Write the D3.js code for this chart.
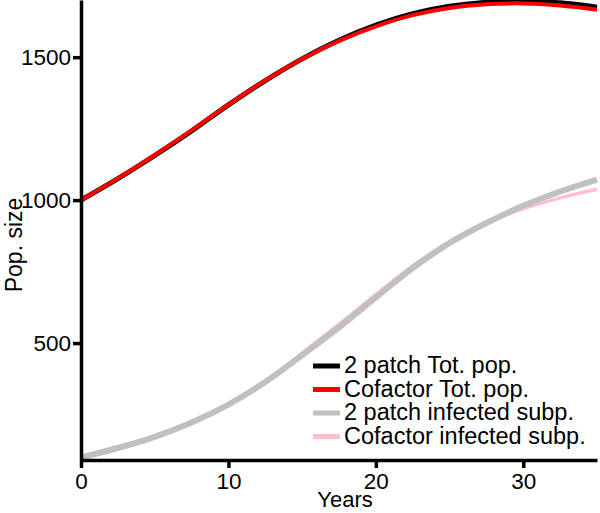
<!DOCTYPE html>
<html>
<head>
<meta charset="utf-8">
<script src="https://cdn.jsdelivr.net/npm/d3@7"></script>
<style>
  body { margin: 0; background: #fff; }
  text { font-family: "Liberation Sans", Arial, sans-serif; fill: #000; }
</style>
</head>
<body>
<svg id="chart" width="600" height="513"></svg>
<script>
// years sampled every 2.5
var years = [0, 2.5, 5, 7.5, 10, 12.5, 15, 17.5, 20, 22.5, 25, 27.5, 30, 32.5, 35];

// total population
var patchTot    = [1000, 1075, 1156, 1242, 1333, 1418, 1494, 1559, 1612, 1652, 1678, 1692, 1696, 1690, 1675];
var cofactorTot = [1000, 1076, 1158, 1244, 1334, 1419, 1494, 1557, 1608, 1647, 1672, 1685, 1688, 1681, 1666];

// infected subpopulation
var patchInf    = [100, 133, 172, 222, 285, 364, 458, 555, 660, 762, 850, 920, 980, 1030, 1072];
var cofactorInf = [100, 131, 170, 221, 285, 367, 465, 566, 670, 770, 855, 920, 970, 1008, 1038];

var xTicks = [0, 10, 20, 30];
var yTicks = [500, 1000, 1500];

var series = [
  { name: "2 patch Tot. pop.",       values: patchTot,    color: "#000000", width: 5 },
  { name: "Cofactor Tot. pop.",      values: cofactorTot, color: "#ff0000", width: 4 },
  { name: "2 patch infected subp.",  values: patchInf,    color: "#c0c0c0", width: 6 },
  { name: "Cofactor infected subp.", values: cofactorInf, color: "#ffc0cb", width: 3.5 }
];

var svg = d3.select("#chart");

var x = d3.scaleLinear().domain([0, 35]).range([81, 597]);
var y = d3.scaleLinear().domain([91, 1700]).range([460, 0]);

var line = d3.line()
  .x(function(d, i) { return x(years[i]); })
  .y(function(d) { return y(d); })
  .curve(d3.curveCatmullRom);

// pink goes under grey
var drawOrder = [0, 1, 3, 2];
drawOrder.forEach(function(k) {
  var s = series[k];
  svg.append("path")
    .attr("d", line(s.values))
    .attr("fill", "none")
    .attr("stroke", s.color)
    .attr("stroke-width", s.width);
});

// axes
var xAxis = svg.append("g")
  .attr("transform", "translate(0,460)")
  .call(d3.axisBottom(x).tickValues(xTicks).tickFormat(d3.format("d"))
    .tickSize(8).tickPadding(5).tickSizeOuter(0));
var yAxis = svg.append("g")
  .attr("transform", "translate(81,0)")
  .call(d3.axisLeft(y).tickValues(yTicks).tickFormat(d3.format("d"))
    .tickSize(8).tickPadding(2).tickSizeOuter(0));

[xAxis, yAxis].forEach(function(g) {
  g.select(".domain").attr("stroke", "#000").attr("stroke-width", 3.5);
  g.selectAll(".tick line").attr("stroke", "#000").attr("stroke-width", 3.5);
  g.selectAll(".tick text")
    .style("font-family", "'Liberation Sans', Arial, sans-serif")
    .style("font-size", "22.5px")
    .attr("fill", "#000");
});

// axis titles
svg.append("text")
  .attr("x", 345).attr("y", 507)
  .attr("text-anchor", "middle")
  .style("font-size", "22px")
  .text("Years");

svg.append("text")
  .attr("transform", "translate(22,245) rotate(-90)")
  .attr("text-anchor", "middle")
  .style("font-size", "23px")
  .text("Pop. size");

// legend
var legend = svg.append("g").attr("transform", "translate(313,366)");
series.forEach(function(s, i) {
  var row = legend.append("g").attr("transform", "translate(0," + (i * 23.5) + ")");
  row.append("line")
    .attr("x1", 0).attr("x2", 27)
    .attr("y1", 0).attr("y2", 0)
    .attr("stroke", s.color)
    .attr("stroke-width", 5);
  row.append("text")
    .attr("x", 31).attr("y", 7)
    .style("font-size", "23.5px")
    .text(s.name);
});
</script>
</body>
</html>
